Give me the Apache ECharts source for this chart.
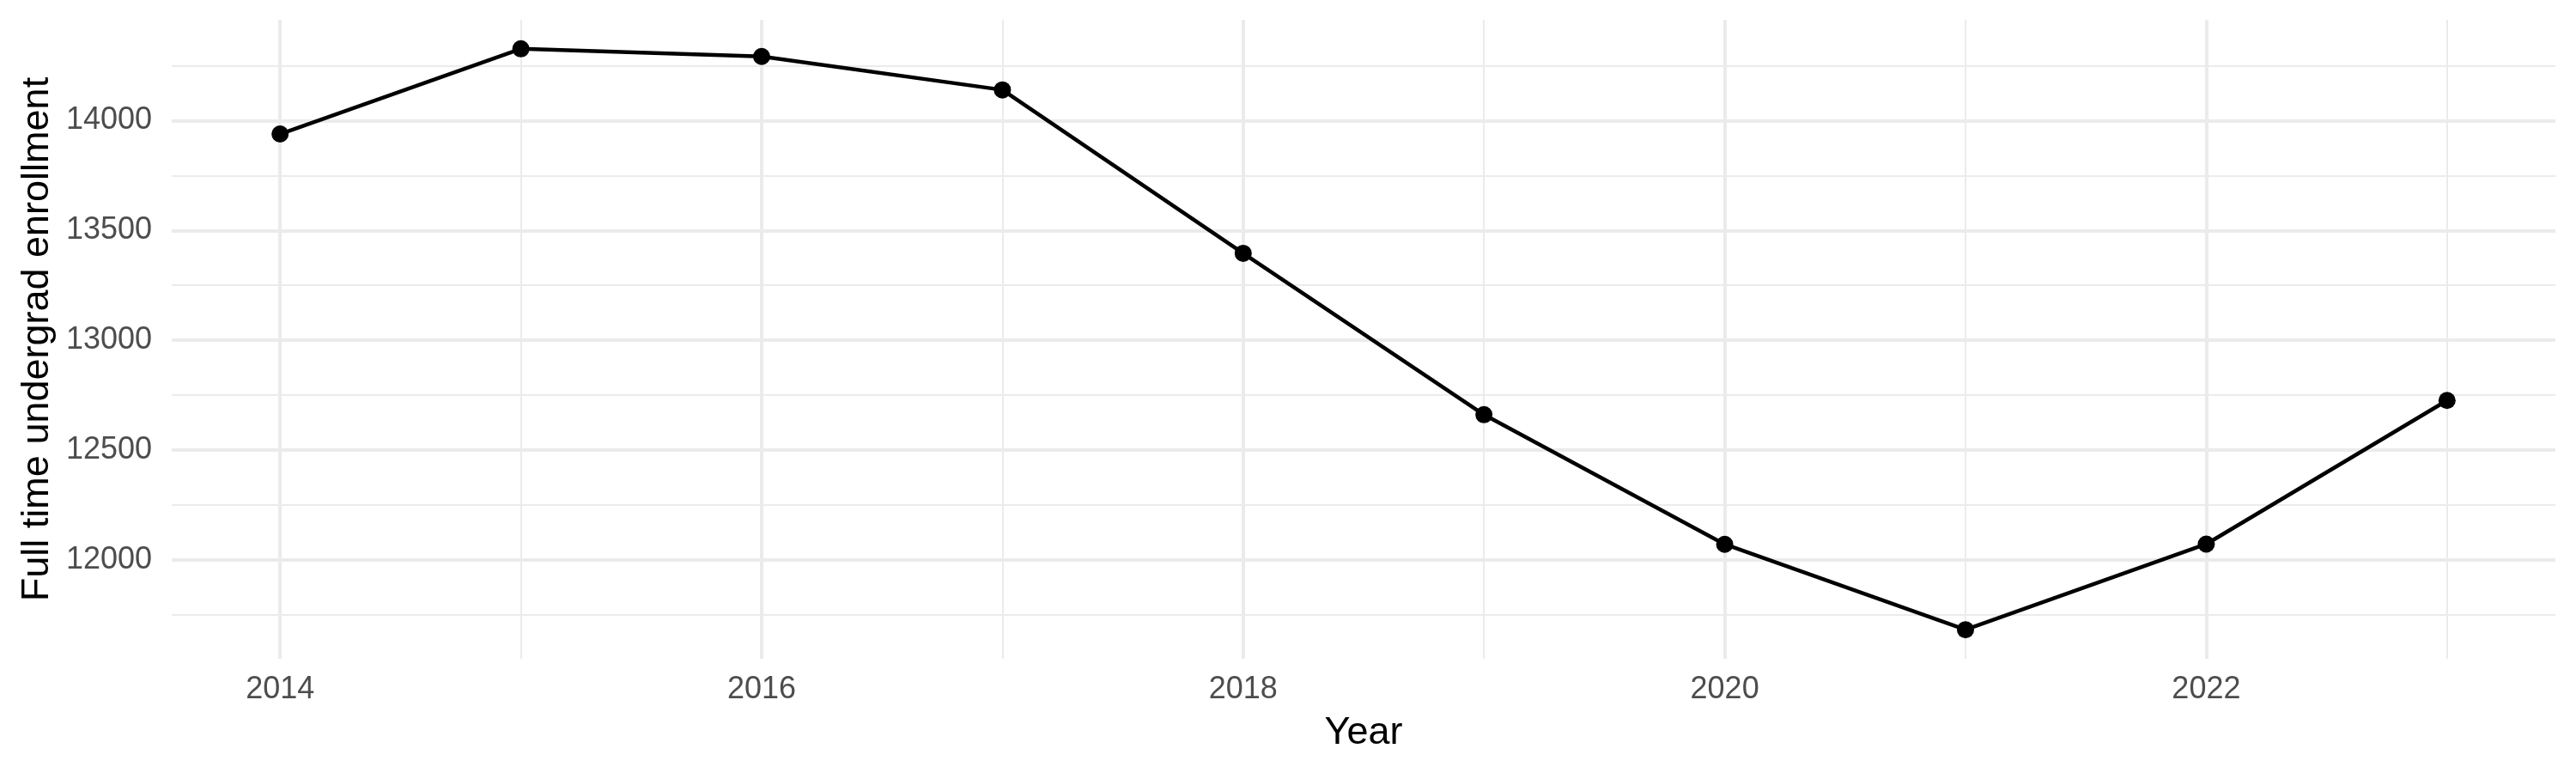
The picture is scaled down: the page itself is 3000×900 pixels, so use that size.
<!DOCTYPE html>
<html>
<head>
<meta charset="utf-8">
<title>Full time undergrad enrollment</title>
<script src="https://cdn.jsdelivr.net/npm/echarts@6/dist/echarts.min.js"></script>
<style>
    html, body { margin: 0; padding: 0; background: #fff; }
    #chart { width: 3000px; height: 900px; }
</style>
</head>
<body>
<div id="chart"></div>
<script>
    // data
    var years = [2014, 2015, 2016, 2017, 2018, 2019, 2020, 2021, 2022, 2023];
    var enrollment = [13939, 14327, 14292, 14140, 13396, 12661, 12071, 11682, 12072, 12726];

    // ticks / grid lines
    var xMajor = [2014, 2016, 2018, 2020, 2022];
    var xMinor = [2015, 2017, 2019, 2021, 2023];
    var yMajor = [12000, 12500, 13000, 13500, 14000];
    var yMinor = [11750, 12250, 12750, 13250, 13750, 14250];

    // ggplot style 5% padding on both axes
    var yLo = Math.min.apply(null, enrollment), yHi = Math.max.apply(null, enrollment);
    var yPad = (yHi - yLo) * 0.05;
    var xLo = years[0], xHi = years[years.length - 1];
    var xPad = (xHi - xLo) * 0.05;

    var font = 'Liberation Sans';
    var gridCol = '#EBEBEB';

    var dom = document.getElementById('chart');
    var myChart = echarts.init(dom, null, {renderer: 'canvas'});

    var option = {
        backgroundColor: '#ffffff',
        animation: false,
        grid: {left: 200, right: 24, top: 23, bottom: 133},
        xAxis: [
            {
                type: 'value',
                min: xLo - xPad,
                max: xHi + xPad,
                name: 'Year',
                nameLocation: 'middle',
                nameGap: 87,
                nameTextStyle: {fontFamily: font, fontSize: 45, color: '#000', verticalAlign: 'middle'},
                axisLine: {show: false},
                axisTick: {show: false, customValues: xMajor},
                axisLabel: {
                    customValues: xMajor,
                    fontFamily: font, fontSize: 36, color: '#4D4D4D', margin: 18,
                    formatter: function (v) { return String(v); }
                },
                splitLine: {show: true, lineStyle: {color: gridCol, width: 4}}
            },
            {
                // minor vertical lines only
                type: 'value',
                min: xLo - xPad,
                max: xHi + xPad,
                position: 'bottom',
                axisLine: {show: false},
                axisTick: {show: false, customValues: xMinor},
                axisLabel: {show: false, customValues: xMinor},
                splitLine: {show: true, lineStyle: {color: gridCol, width: 2}}
            }
        ],
        yAxis: [
            {
                type: 'value',
                min: yLo - yPad,
                max: yHi + yPad,
                name: 'Full time undergrad enrollment',
                nameLocation: 'middle',
                nameRotate: 90,
                nameGap: 156,
                nameTextStyle: {fontFamily: font, fontSize: 45, color: '#000', verticalAlign: 'middle'},
                axisLine: {show: false},
                axisTick: {show: false, customValues: yMajor},
                axisLabel: {
                    customValues: yMajor,
                    fontFamily: font, fontSize: 36, color: '#4D4D4D', margin: 23,
                    formatter: function (v) { return String(v); }
                },
                splitLine: {show: true, lineStyle: {color: gridCol, width: 4}}
            },
            {
                type: 'value',
                min: yLo - yPad,
                max: yHi + yPad,
                position: 'left',
                axisLine: {show: false},
                axisTick: {show: false, customValues: yMinor},
                axisLabel: {show: false, customValues: yMinor},
                splitLine: {show: true, lineStyle: {color: gridCol, width: 2}}
            }
        ],
        series: [
            {
                type: 'line',
                xAxisIndex: 0,
                yAxisIndex: 0,
                data: years.map(function (y, i) { return [y, enrollment[i]]; }),
                lineStyle: {color: '#000', width: 4.5},
                symbol: 'circle',
                symbolSize: 20,
                itemStyle: {color: '#000'},
                z: 5
            }
        ]
    };

    myChart.setOption(option, true);
</script>
</body>
</html>
